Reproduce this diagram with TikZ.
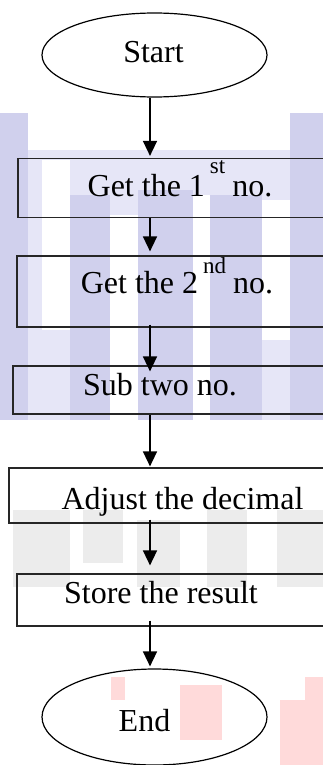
\documentclass[tikz,border=0pt]{standalone}
\usepackage{fontspec}
\setmainfont{Liberation Serif}
\usetikzlibrary{positioning,shapes.geometric,arrows.meta,backgrounds}
\definecolor{markLavender}{RGB}{208, 208, 237}
\definecolor{markLavenderLight}{RGB}{230, 230, 247}
\definecolor{markGray}{RGB}{236, 236, 236}
\definecolor{markPink}{RGB}{255, 218, 218}

% raised ordinal suffix as the flowchart prints it
\newcommand{\ordsuffix}[2]{\hspace{5pt}\raisebox{#1}{\fontsize{23}{23}\selectfont #2}\hspace{7pt}}

\begin{document}
\begin{tikzpicture}[
		x=1pt, y=-1pt,
		% Define styles for nodes
		terminal/.style={
				draw=black,
				ellipse,
				minimum width=225pt,
				inner sep=0pt,
				line width=1.2pt
			},
		stepbox/.style={
				draw=black!85,
				rectangle,
				inner sep=0pt,
				line width=1.2pt
			},
		steptext/.style={
				anchor=base,
				inner sep=0pt,
				font=\fontsize{32}{38}\selectfont
			},
		arrow/.style={
				-{Triangle[length=15pt,width=14pt]},
				line width=1.5pt,
				draw=black
			}
	]

	% Page frame
	\useasboundingbox (0,0) rectangle (323,765);

	% Terminals
	\node[terminal, minimum height=84pt] (start) at (154.5,55) {};
	\node[terminal, minimum height=96pt] (end) at (154.5,717) {};

	% Process boxes (right edges run off the page)
	\node[stepbox, minimum width=320pt, minimum height=59pt] (getfirst) at (178,188) {};
	\node[stepbox, minimum width=321pt, minimum height=71pt] (getsecond) at (177.5,291.5) {};
	\node[stepbox, minimum width=325pt, minimum height=48pt] (subtract) at (175.5,390) {};
	\node[stepbox, minimum width=329pt, minimum height=55pt] (adjust) at (173.5,495.5) {};
	\node[stepbox, minimum width=321pt, minimum height=52pt] (store) at (177.5,600) {};

	% Texts
	\node[steptext] (starttext) at (153.5,63) {Start};
	\node[steptext] (firsttext) at (180,196) {Get the 1\ordsuffix{23pt}{st}no.};
	\node[steptext] (secondtext) at (177,293) {Get the 2\ordsuffix{20pt}{nd}no.};
	\node[steptext] (subtext) at (160,395) {Sub two no.};
	\node[steptext] (adjusttext) at (182.5,509) {Adjust the decimal};
	\node[steptext] (storetext) at (161,603) {Store the result};
	\node[steptext] (endtext) at (144.5,731) {End};

	% Flow axis
	\coordinate (axis) at (150,0);

	% ARROWS
	\draw[arrow] (axis |- start.south) -- ([yshift=2pt]axis |- getfirst.north);
	\draw[arrow] (axis |- getfirst.south) -- ([yshift=4pt]axis |- getsecond.north);
	\draw[arrow] ([yshift=3pt]axis |- getsecond.south) -- ([yshift=-6pt]axis |- subtract.north);
	\draw[arrow] (axis |- subtract.south) -- ([yshift=1pt]axis |- adjust.north);
	\draw[arrow] ([yshift=4pt]axis |- adjust.south) -- ([yshift=8pt]axis |- store.north);
	\draw[arrow] ([yshift=6pt]axis |- store.south) -- ([yshift=2pt]axis |- end.north);

	% WATERMARK behind the chart
	\begin{pgfonlayer}{background}
		% lavender columns
		\fill[markLavenderLight] (28,150) rectangle (290,420);
		\fill[white] (42,160) rectangle (70,330);
		\fill[white] (110,215) rectangle (138,420);
		\fill[white] (193,195) rectangle (210,420);
		\fill[white] (262,200) rectangle (290,340);
		\fill[markLavender] (0,113) rectangle (28,420);
		\fill[markLavender] (290,113) rectangle (323,420);
		\fill[markLavender] (70,195) rectangle (110,420);
		\fill[markLavender] (138,190) rectangle (193,420);
		\fill[markLavender] (210,195) rectangle (262,420);
		% gray blocks
		\fill[markGray] (13,510) rectangle (70,587);
		\fill[markGray] (83,510) rectangle (123,563);
		\fill[markGray] (137,520) rectangle (180,587);
		\fill[markGray] (207,510) rectangle (247,587);
		\fill[markGray] (277,510) rectangle (323,587);
		% pink blocks
		\fill[markPink] (111,677) rectangle (125,700);
		\fill[markPink] (180,685) rectangle (222,740);
		\fill[markPink] (280,700) rectangle (323,765);
		\fill[markPink] (305,677) rectangle (323,700);
	\end{pgfonlayer}

\end{tikzpicture}
\end{document}
